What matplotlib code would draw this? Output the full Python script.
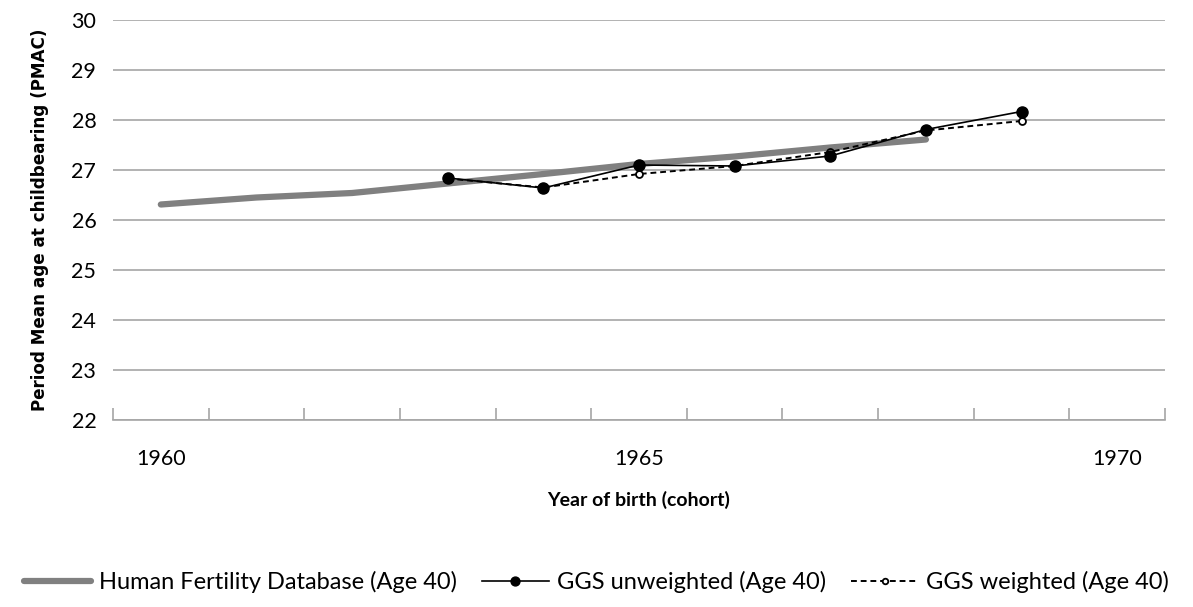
import matplotlib.pyplot as plt
from matplotlib.ticker import FixedLocator

# cohort years and values
hfd_years = [1960, 1961, 1962, 1963, 1964, 1965, 1966, 1967, 1968]
hfd_pmac = [26.31, 26.45, 26.54, 26.73, 26.92, 27.12, 27.27, 27.45, 27.61]

ggs_years = [1963, 1964, 1965, 1966, 1967, 1968, 1969]
ggs_unweighted = [26.84, 26.64, 27.10, 27.08, 27.28, 27.81, 28.17]
ggs_weighted = [26.83, 26.65, 26.92, 27.08, 27.36, 27.79, 27.98]

year_labels = [1960, 1965, 1970]

plt.rcParams['font.family'] = ['Lato', 'DejaVu Sans']

fig = plt.figure(figsize=(11.93, 6.07), dpi=100)
ax = fig.add_axes([113 / 1193, 1 - 420 / 607, (1165 - 113) / 1193, 400 / 607])

ax.plot(hfd_years, hfd_pmac, color='#808080', linewidth=4.5, solid_capstyle='round',
        label='Human Fertility Database (Age 40)', zorder=2)
ax.plot(ggs_years, ggs_unweighted, color='black', linewidth=1.2, marker='o', markersize=8,
        label='GGS unweighted (Age 40)', zorder=4)
ax.plot(ggs_years, ggs_weighted, color='black', linewidth=1.4, linestyle=(0, (3, 2)),
        marker='o', markersize=5, markerfacecolor='white', markeredgewidth=1.3,
        label='GGS weighted (Age 40)', zorder=3)

ax.set_xlim(1959.5, 1970.5)
ax.set_ylim(22, 30)
ax.set_yticks(range(22, 31))
ax.yaxis.grid(True, color='#a6a6a6', linewidth=1.2)
ax.set_axisbelow(True)

ax.set_xticks(year_labels)
ax.xaxis.set_minor_locator(FixedLocator([1959.5 + i for i in range(12)]))
ax.tick_params(axis='x', which='major', length=0, pad=21, labelsize=15.5)
ax.tick_params(axis='x', which='minor', direction='in', length=9, color='#a6a6a6', width=1.2)
ax.tick_params(axis='y', length=0, pad=12, labelsize=15.5)

for s in ['top', 'right', 'left']:
    ax.spines[s].set_visible(False)
ax.spines['bottom'].set_color('#a6a6a6')
ax.spines['bottom'].set_linewidth(1.2)

ax.set_xlabel('Year of birth (cohort)', fontsize=14, fontweight='bold', labelpad=16)
ax.set_ylabel('Period Mean age at childbearing (PMAC)', fontsize=12.1, fontweight='bold',
              family='DejaVu Sans', labelpad=16)

fig.legend(loc='center', bbox_to_anchor=(0.5, 1 - 582 / 607), ncol=3, frameon=False,
           fontsize=17, handlelength=2.85, columnspacing=1.05, handletextpad=0.34,
           markerscale=0.8)

fig.savefig('out.png', dpi=100)
